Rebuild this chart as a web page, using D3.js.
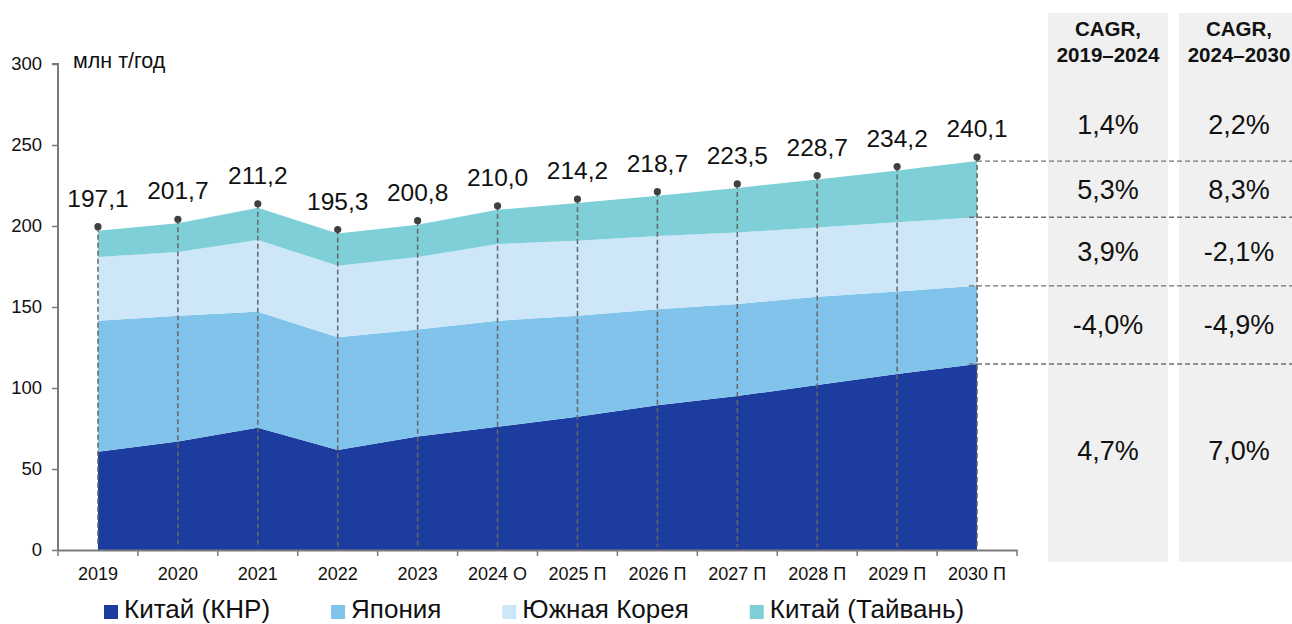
<!DOCTYPE html>
<html>
<head>
<meta charset="utf-8">
<script src="https://cdn.jsdelivr.net/npm/d3@7"></script>
<style>
  html, body { margin: 0; padding: 0; background: #fff; }
  svg { display: block; font-family: "Liberation Sans", Arial, sans-serif; }
</style>
</head>
<body>
<svg id="chart" width="1292" height="624"></svg>
<script>
// Categories and series (млн т/год)
const years = ["2019", "2020", "2021", "2022", "2023", "2024 О", "2025 П", "2026 П", "2027 П", "2028 П", "2029 П", "2030 П"];
const chinaPRC = [60.7, 66.9, 75.5, 61.7, 70.1, 76.1, 82.3, 89.3, 95.0, 101.9, 108.6, 114.8];
const japan    = [80.8, 77.7, 71.6, 69.6, 66.0, 65.4, 62.3, 59.3, 56.9, 54.5, 50.9, 48.3];
const korea    = [39.3, 39.4, 44.3, 44.2, 44.7, 47.4, 46.3, 45.2, 44.1, 42.6, 42.8, 42.3];
const taiwan   = [16.3, 17.7, 19.8, 19.8, 20.0, 21.1, 23.3, 24.9, 27.5, 29.7, 31.9, 34.7];
const totals   = [197.1, 201.7, 211.2, 195.3, 200.8, 210.0, 214.2, 218.7, 223.5, 228.7, 234.2, 240.1];
const seriesNames = ["Китай (КНР)", "Япония", "Южная Корея", "Китай (Тайвань)"];
const yTicks = [0, 50, 100, 150, 200, 250, 300];
const unitLabel = "млн т/год";

// CAGR table: rows top to bottom = total, Тайвань, Южная Корея, Япония, КНР
const cagrHeaders = [["CAGR,", "2019–2024"], ["CAGR,", "2024–2030"]];
const cagr1924 = ["1,4%", "5,3%", "3,9%", "-4,0%", "4,7%"];
const cagr2430 = ["2,2%", "8,3%", "-2,1%", "-4,9%", "7,0%"];

const colors = ["#1c3ca0", "#80c4ec", "#cde7f8", "#7ecfd7"];
const labelFont = '"Liberation Sans", Arial, sans-serif';

const svg = d3.select("#chart");

const x0 = 58, x1 = 1017, yTop = 64, yBottom = 550;
const x = d3.scaleBand().domain(years).range([x0, x1]).padding(0);
const cx = d => x(d) + x.bandwidth() / 2;
const y = d3.scaleLinear().domain([0, 300]).range([yBottom, yTop]);

// stacked data
const rows = years.map((yr, i) => ({ year: yr, c: chinaPRC[i], j: japan[i], k: korea[i], t: taiwan[i] }));
const stack = d3.stack().keys(["c", "j", "k", "t"]);
const layers = stack(rows);

const area = d3.area()
  .x(d => cx(d.data.year))
  .y0(d => y(d[0]))
  .y1(d => y(d[1]));

svg.append("g").selectAll("path")
  .data(layers)
  .join("path")
  .attr("d", area)
  .attr("fill", (d, i) => colors[i]);

// CAGR panels
const colCenters = [1108, 1239];
const colLeft = [1048, 1179];
const colWidth = 120;
colLeft.forEach(l => {
  svg.append("rect").attr("x", l).attr("y", 13).attr("width", colWidth).attr("height", 549).attr("fill", "#f0f0f0");
});

cagrHeaders.forEach((h, ci) => {
  const t = svg.append("text")
    .attr("x", colCenters[ci]).attr("text-anchor", "middle")
    .attr("font-size", 20.5).attr("font-weight", "bold").attr("fill", "#111");
  t.append("tspan").attr("x", colCenters[ci]).attr("y", 36).text(h[0]);
  t.append("tspan").attr("x", colCenters[ci]).attr("y", 62).text(h[1]);
});

// row boundaries from the last year's stack
const last = years.length - 1;
const bounds = [
  y(totals[last]),
  y(chinaPRC[last] + japan[last] + korea[last]),
  y(chinaPRC[last] + japan[last]),
  y(chinaPRC[last])
];
const rowCenters = [
  124,
  (bounds[0] + bounds[1]) / 2,
  (bounds[1] + bounds[2]) / 2,
  (bounds[2] + bounds[3]) / 2,
  (bounds[3] + y(0) - 14) / 2
];
[cagr1924, cagr2430].forEach((col, ci) => {
  svg.append("g").selectAll("text")
    .data(col)
    .join("text")
    .attr("x", colCenters[ci])
    .attr("y", (d, i) => rowCenters[i] + 9.5)
    .attr("text-anchor", "middle")
    .attr("font-size", 27)
    .attr("fill", "#111")
    .text(d => d);
});

// dashed guides from the last year to the table
const xEnd = cx(years[last]);
svg.append("g").selectAll("line")
  .data(bounds)
  .join("line")
  .attr("x1", (d, i) => i === 0 ? xEnd : xEnd - 8)
  .attr("x2", 1292)
  .attr("y1", d => d).attr("y2", d => d)
  .attr("stroke", "#707070").attr("stroke-width", 1.3)
  .attr("stroke-dasharray", "5,3");

// vertical dashed drop lines and dots
const dotY = i => y(totals[i]) - 4;
svg.append("g").selectAll("line")
  .data(years)
  .join("line")
  .attr("x1", d => cx(d)).attr("x2", d => cx(d))
  .attr("y1", (d, i) => dotY(i)).attr("y2", yBottom - 3)
  .attr("stroke", "#666").attr("stroke-width", 1.5)
  .attr("stroke-dasharray", "5,3");

svg.append("g").selectAll("circle")
  .data(years)
  .join("circle")
  .attr("cx", d => cx(d)).attr("cy", (d, i) => dotY(i))
  .attr("r", 3.6).attr("fill", "#404040");

// total labels
svg.append("g").selectAll("text")
  .data(years)
  .join("text")
  .attr("x", d => cx(d))
  .attr("y", (d, i) => dotY(i) - 20)
  .attr("text-anchor", "middle")
  .attr("font-size", 24.5)
  .attr("fill", "#111")
  .text((d, i) => d3.format(".1f")(totals[i]).replace(".", ","));

// Y axis
const yAxis = d3.axisLeft(y).tickValues(yTicks).tickSize(6).tickPadding(10).tickFormat(d3.format("d"));
const gy = svg.append("g").attr("transform", `translate(${x0},0)`).call(yAxis);
gy.select(".domain").attr("stroke", "#7a7a7a").attr("stroke-width", 2).attr("d", `M-6,${yTop}H0V${yBottom}`);
gy.selectAll(".tick line").attr("stroke", "#7a7a7a").attr("stroke-width", 1.5);
gy.selectAll(".tick text").attr("font-size", 18.5).attr("font-family", labelFont).attr("fill", "#111");

// X axis: labels centred in bands, ticks on band edges
const xAxis = d3.axisBottom(x).tickSize(0).tickPadding(17);
const gx = svg.append("g").attr("transform", `translate(0,${yBottom})`).call(xAxis);
gx.select(".domain").attr("stroke", "#7a7a7a").attr("stroke-width", 2);
gx.selectAll(".tick text").attr("font-size", 18).attr("font-family", labelFont).attr("fill", "#111");
const edges = years.map(d => x(d)).concat([x1]);
gx.append("g").selectAll("line")
  .data(edges)
  .join("line")
  .attr("x1", d => d).attr("x2", d => d)
  .attr("y1", 0).attr("y2", 6)
  .attr("stroke", "#7a7a7a").attr("stroke-width", 1.5);

// unit label
svg.append("text").attr("x", 73).attr("y", 68).attr("font-size", 21.5).attr("fill", "#111").text(unitLabel);

// legend
const legend = svg.append("g").attr("transform", "translate(104,0)");
let lx = 0;
seriesNames.forEach((name, i) => {
  const g = legend.append("g").attr("transform", `translate(${lx},0)`);
  g.append("rect").attr("x", 0).attr("y", 605).attr("width", 14).attr("height", 14).attr("fill", colors[i]);
  const t = g.append("text").attr("x", 20).attr("y", 618).attr("font-size", 26).attr("fill", "#111").text(name);
  lx += 20 + t.node().getComputedTextLength() + 61;
});
</script>
</body>
</html>
